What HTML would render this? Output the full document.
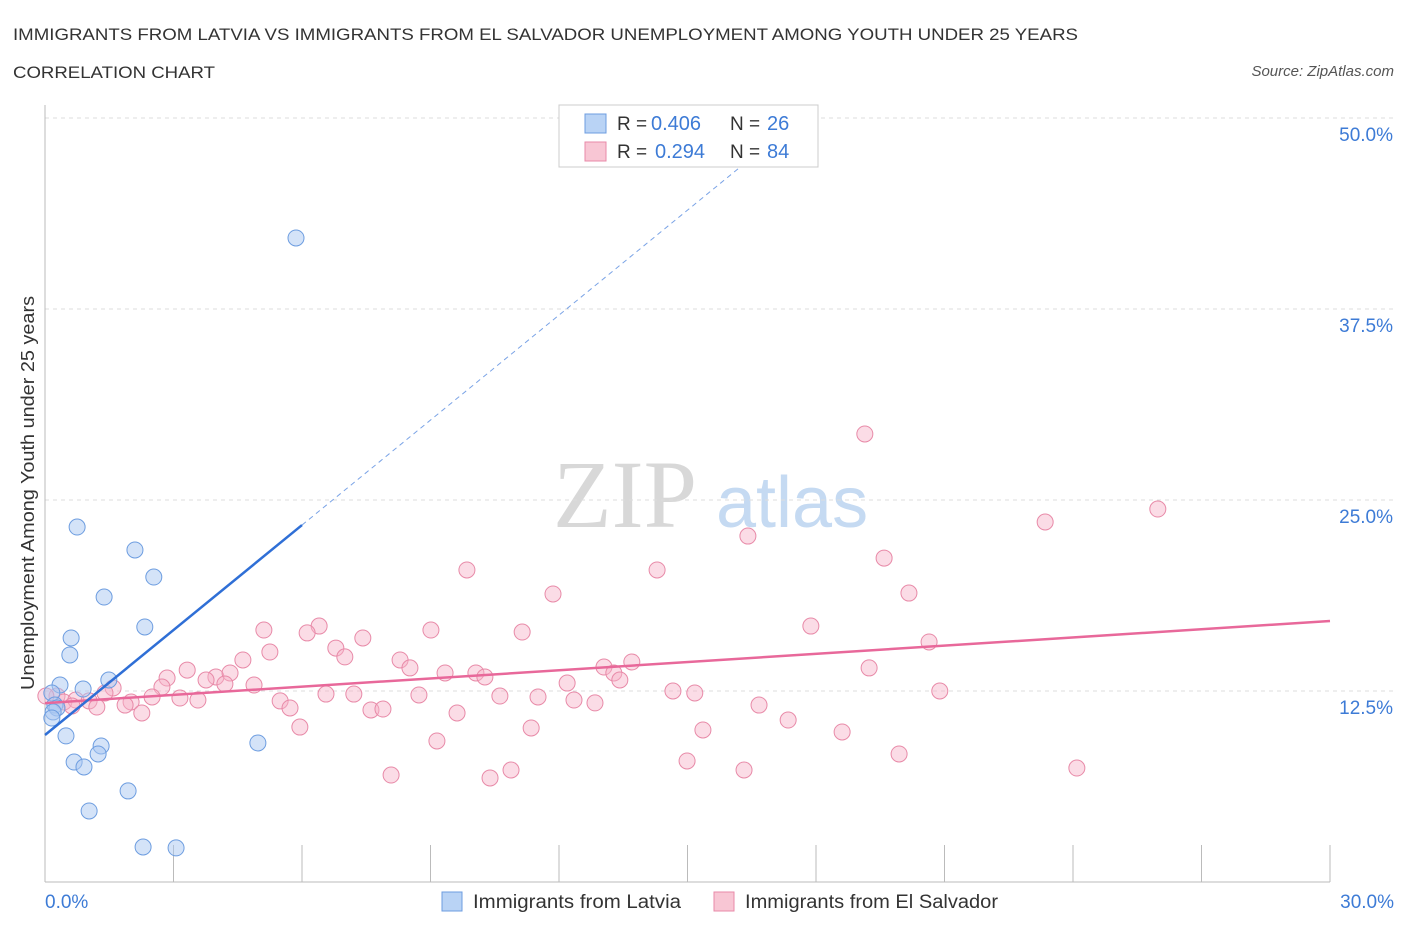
<!DOCTYPE html>
<html><head><meta charset="utf-8"><style>
body{margin:0;background:#fff;font-family:"Liberation Sans",sans-serif;}
</style></head><body>
<svg id="chart" width="1406" height="930" xmlns="http://www.w3.org/2000/svg">
<text x="13" y="40" font-size="17" fill="#333" textLength="1065" lengthAdjust="spacingAndGlyphs">IMMIGRANTS FROM LATVIA VS IMMIGRANTS FROM EL SALVADOR UNEMPLOYMENT AMONG YOUTH UNDER 25 YEARS</text>
<text x="13" y="78" font-size="17" fill="#333" textLength="202" lengthAdjust="spacingAndGlyphs">CORRELATION CHART</text>
<text x="1394" y="76" font-size="15" fill="#555" font-style="italic" text-anchor="end">Source: ZipAtlas.com</text>
<g>
<text x="553" y="527" font-size="96" font-family="Liberation Serif,serif" fill="#d8d8d8">ZIP</text>
<text x="716" y="527" font-size="72" fill="#c5daf2">atlas</text>
</g>
<g id="grid"></g>
<line x1="45" y1="105" x2="45" y2="882" stroke="#bbb"/>
<line x1="45" y1="882" x2="1330" y2="882" stroke="#bbb"/>
<g id="xticks"></g>
<text x="45" y="908" font-size="19" fill="#3d7bd6">0.0%</text>
<text x="1394" y="908" font-size="19" fill="#3d7bd6" text-anchor="end">30.0%</text>
<text transform="translate(34,493) rotate(-90)" font-size="18" fill="#333" text-anchor="middle" textLength="394" lengthAdjust="spacingAndGlyphs">Unemployment Among Youth under 25 years</text>
<g id="pts"></g>
<g id="trend"></g>
<g>
<rect x="559" y="105" width="259" height="62" fill="#fff" stroke="#ccc"/>
<rect x="585" y="114" width="21" height="19" fill="#b9d3f5" stroke="#6d9de0"/>
<rect x="585" y="142" width="21" height="19" fill="#f8c6d4" stroke="#e88aa8"/>
<text x="617" y="130" font-size="19" fill="#333">R =</text>
<text x="651" y="130" font-size="20" fill="#3d7bd6">0.406</text>
<text x="730" y="130" font-size="19" fill="#333">N =</text>
<text x="767" y="130" font-size="20" fill="#3d7bd6">26</text>
<text x="617" y="158" font-size="19" fill="#333">R =</text>
<text x="655" y="158" font-size="20" fill="#3d7bd6">0.294</text>
<text x="730" y="158" font-size="19" fill="#333">N =</text>
<text x="767" y="158" font-size="20" fill="#3d7bd6">84</text>
</g>
<g>
<rect x="442" y="892" width="20" height="19" fill="#b9d3f5" stroke="#6d9de0"/>
<text x="473" y="908" font-size="19" fill="#333" textLength="208" lengthAdjust="spacingAndGlyphs">Immigrants from Latvia</text>
<rect x="714" y="892" width="20" height="19" fill="#f8c6d4" stroke="#e88aa8"/>
<text x="745" y="908" font-size="19" fill="#333" textLength="253" lengthAdjust="spacingAndGlyphs">Immigrants from El Salvador</text>
</g>
</svg>
<script>
const yTicks=[12.5,25,37.5,50];
const yTickLabels=["12.5%","25.0%","37.5%","50.0%"];
const xTicks=[0,3,6,9,12,15,18,21,24,27,30];
const latviaX=[5.86,0.75,2.10,2.54,1.38,2.33,0.61,0.58,0.89,0.35,1.49,0.16,0.23,0.28,0.19,0.16,0.49,1.31,1.24,0.68,0.91,4.97,1.94,1.03,2.29,3.06];
const latviaY=[42.15,23.23,21.73,19.96,18.65,16.69,15.97,14.86,12.63,12.89,13.22,12.37,11.58,11.39,11.13,10.73,9.56,8.90,8.38,7.85,7.53,9.10,5.96,4.65,2.29,2.23];
const salvX=[19.14,25.98,23.35,16.41,19.59,9.85,14.29,11.86,20.17,6.40,17.88,5.11,6.12,9.01,11.14,7.42,20.64,5.25,6.79,7.00,8.29,4.62,13.70,13.05,13.28,19.24,3.32,3.99,9.34,10.06,10.27,2.85,4.32,3.76,4.20,13.42,8.52,12.19,4.88,1.59,2.73,14.66,15.17,20.89,6.56,7.21,8.73,10.62,11.51,12.35,1.40,2.50,3.15,3.57,5.49,12.84,16.67,2.01,1.87,0.28,0.44,0.72,1.03,0.02,1.21,5.72,2.26,7.61,7.89,9.62,17.35,5.95,11.35,15.36,18.61,9.15,19.94,14.99,10.88,10.39,8.08,16.32,24.09,0.63];
const salvY=[29.32,24.41,23.56,22.64,21.20,20.42,20.42,18.85,18.91,16.75,16.75,16.49,16.30,16.49,16.36,15.97,15.71,15.05,15.31,14.73,14.53,14.53,14.40,14.07,13.68,14.01,13.87,13.42,13.68,13.68,13.42,13.35,13.68,13.22,12.96,13.22,14.01,13.02,12.89,12.70,12.76,12.50,12.37,12.50,12.30,12.30,12.24,12.17,12.11,11.91,12.37,12.11,12.04,11.91,11.85,11.72,11.58,11.78,11.58,12.17,11.78,11.91,11.85,12.17,11.45,11.39,11.06,11.26,11.32,11.06,10.60,10.14,10.08,9.95,9.82,9.23,8.38,7.92,7.33,6.81,7.00,7.33,7.46,11.52];
const salvTrend=[11.71,17.08];
const latviaTrend=[9.62,2.29];
const NS="http://www.w3.org/2000/svg";
const sx=v=>45+v/30*1285;
const sy=v=>882-v/12.5*191;
function mk(tag,attrs,parent){const e=document.createElementNS(NS,tag);for(const k in attrs)e.setAttribute(k,attrs[k]);parent.appendChild(e);return e;}
const grid=document.getElementById('grid');
yTicks.forEach((t,i)=>{
 const l=mk('line',{x1:45,x2:1394,y1:sy(t),y2:sy(t),stroke:'#ddd','stroke-dasharray':'4,4'},grid);
 
 
 const tx=mk('text',{x:1393,y:sy(t)+23,'font-size':19,fill:'#3d7bd6','text-anchor':'end'},grid);
 tx.textContent=yTickLabels[i];
 
 
});
const xt=document.getElementById('xticks');
xTicks.forEach(t=>{
 const l=mk('line',{x1:sx(t),x2:sx(t),y1:845,y2:882,stroke:'#bbb'},xt);
 
 
});
const pts=document.getElementById('pts');
salvX.forEach((x,i)=>{
 const c=mk('circle',{cx:sx(x),cy:sy(salvY[i]),r:8,fill:'rgba(246,177,199,0.45)',stroke:'#e88aa8','stroke-width':1},pts);
 
 
});
latviaX.forEach((x,i)=>{
 const c=mk('circle',{cx:sx(x),cy:sy(latviaY[i]),r:8,fill:'rgba(170,200,242,0.5)',stroke:'#6d9de0','stroke-width':1},pts);
 
 
});
const tr=document.getElementById('trend');
const p=mk('line',{x1:sx(0),y1:sy(salvTrend[0]),x2:sx(30),y2:sy(salvTrend[1]),stroke:'#e8689a','stroke-width':2.5},tr);


const bl=x=>latviaTrend[0]+latviaTrend[1]*x;
const b=mk('line',{x1:sx(0),y1:sy(bl(0)),x2:sx(6),y2:sy(bl(6)),stroke:'#2f6fd6','stroke-width':2.5},tr);


const bd=mk('line',{x1:sx(6),y1:sy(bl(6)),x2:sx(16.4),y2:sy(bl(16.4)),stroke:'#7aa3e6','stroke-width':1,'stroke-dasharray':'5,4'},tr);


</script>
</body></html>
